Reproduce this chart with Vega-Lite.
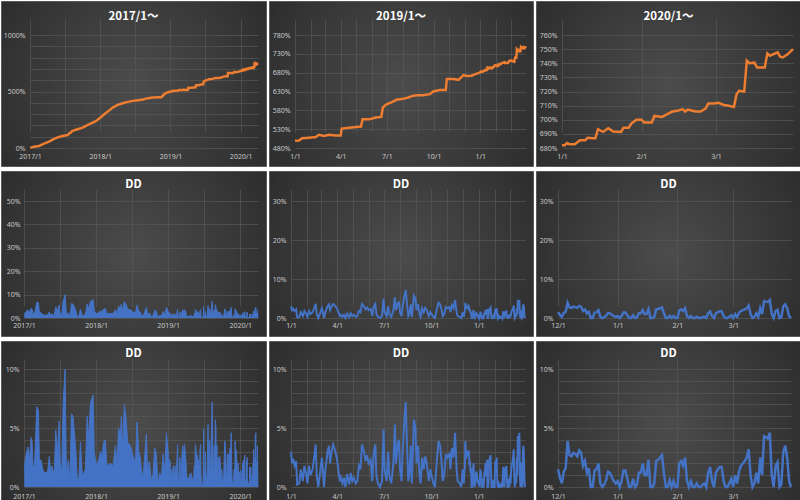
{
"$schema": "https://vega.github.io/schema/vega-lite/v6.json",
"padding": 0,
"background": "#ffffff",
"spacing": 3,
"datasets": {
"cum": [
{"d":"2017/01/02","v":1},{"d":"2017/01/22","v":12},{"d":"2017/02/17","v":18},{"d":"2017/03/15","v":38},{"d":"2017/04/10","v":56},{"d":"2017/05/06","v":80},{"d":"2017/06/01","v":98},{"d":"2017/06/19","v":106},{"d":"2017/07/15","v":115},{"d":"2017/08/10","v":151},{"d":"2017/09/05","v":166},{"d":"2017/10/02","v":180},{"d":"2017/10/28","v":204},{"d":"2017/11/23","v":225},{"d":"2017/12/11","v":240},
{"d":"2018/01/02","v":269},{"d":"2018/01/22","v":299},{"d":"2018/02/09","v":322},{"d":"2018/03/07","v":358},{"d":"2018/04/02","v":382},{"d":"2018/04/28","v":396},{"d":"2018/05/24","v":408},{"d":"2018/06/19","v":417},{"d":"2018/07/15","v":423},{"d":"2018/08/11","v":429},{"d":"2018/09/06","v":441},{"d":"2018/10/02","v":447},{"d":"2018/10/28","v":450},{"d":"2018/11/15","v":450},{"d":"2018/12/03","v":482},{"d":"2018/12/20","v":494},
{"d":"2019/01/01","v":499},{"d":"2019/01/09","v":500},{"d":"2019/01/15","v":506},{"d":"2019/01/29","v":507.5},{"d":"2019/02/11","v":509},{"d":"2019/02/17","v":515},{"d":"2019/02/27","v":512},{"d":"2019/03/09","v":515},{"d":"2019/03/22","v":513},{"d":"2019/04/01","v":513},{"d":"2019/04/03","v":531.5},{"d":"2019/04/18","v":534},{"d":"2019/05/01","v":536},{"d":"2019/05/11","v":537},{"d":"2019/05/14","v":556},{"d":"2019/05/27","v":556},{"d":"2019/06/09","v":561},{"d":"2019/06/20","v":562.6},{"d":"2019/06/23","v":587.5},{"d":"2019/06/30","v":596},{"d":"2019/07/10","v":601},{"d":"2019/07/20","v":608},{"d":"2019/08/02","v":610.5},{"d":"2019/08/12","v":614},{"d":"2019/08/22","v":619},{"d":"2019/09/01","v":620},{"d":"2019/09/10","v":620},{"d":"2019/09/24","v":623},{"d":"2019/09/30","v":630},{"d":"2019/10/13","v":634},{"d":"2019/10/25","v":634},{"d":"2019/10/27","v":663},{"d":"2019/11/09","v":663},{"d":"2019/11/19","v":661},{"d":"2019/11/29","v":673.6},{"d":"2019/12/05","v":671},{"d":"2019/12/15","v":672},{"d":"2019/12/22","v":676},{"d":"2019/12/31","v":680},
{"d":"2020/01/01","v":681.9},{"d":"2020/01/02","v":682},{"d":"2020/01/03","v":683.5},{"d":"2020/01/04","v":682.6},{"d":"2020/01/06","v":682.6},{"d":"2020/01/08","v":685.4},{"d":"2020/01/10","v":685.4},{"d":"2020/01/11","v":687.3},{"d":"2020/01/13","v":686.9},{"d":"2020/01/14","v":686.9},{"d":"2020/01/15","v":693.3},{"d":"2020/01/17","v":691.4},{"d":"2020/01/19","v":694},{"d":"2020/01/21","v":691.6},{"d":"2020/01/24","v":691.4},{"d":"2020/01/25","v":694.4},{"d":"2020/01/27","v":694.4},{"d":"2020/01/28","v":697.3},{"d":"2020/01/30","v":700},{"d":"2020/02/01","v":700},{"d":"2020/02/02","v":698},{"d":"2020/02/05","v":698},{"d":"2020/02/06","v":702.7},{"d":"2020/02/09","v":702},{"d":"2020/02/11","v":704},{"d":"2020/02/13","v":705.8},{"d":"2020/02/15","v":706.3},{"d":"2020/02/17","v":707.5},{"d":"2020/02/18","v":705.8},{"d":"2020/02/19","v":707.2},{"d":"2020/02/22","v":705.8},{"d":"2020/02/24","v":705.8},{"d":"2020/02/26","v":708},{"d":"2020/02/27","v":711.5},{"d":"2020/02/29","v":711.5},{"d":"2020/03/02","v":712},{"d":"2020/03/04","v":710.5},{"d":"2020/03/05","v":710.3},{"d":"2020/03/08","v":709},{"d":"2020/03/09","v":718},{"d":"2020/03/10","v":720.5},{"d":"2020/03/12","v":720},{"d":"2020/03/13","v":741.8},{"d":"2020/03/14","v":740},{"d":"2020/03/16","v":740.4},{"d":"2020/03/17","v":737},{"d":"2020/03/19","v":737},{"d":"2020/03/20","v":737},{"d":"2020/03/21","v":747},{"d":"2020/03/22","v":745.3},{"d":"2020/03/25","v":747.7},{"d":"2020/03/26","v":744.6},{"d":"2020/03/27","v":744.1},{"d":"2020/03/29","v":746.5},{"d":"2020/03/31","v":750}
],
"dd": [
{"d":"2017/01/02","v":1.6},{"d":"2017/01/12","v":2.8},{"d":"2017/01/21","v":3.4},{"d":"2017/01/29","v":2.3},{"d":"2017/02/06","v":4.2},{"d":"2017/02/11","v":3.8},{"d":"2017/02/16","v":1.7},{"d":"2017/02/23","v":1.8},{"d":"2017/03/07","v":6.8},{"d":"2017/03/15","v":6.5},{"d":"2017/03/20","v":2.2},{"d":"2017/03/28","v":2.3},{"d":"2017/04/06","v":1.5},{"d":"2017/04/14","v":1.2},{"d":"2017/05/01","v":1.3},{"d":"2017/05/09","v":2.6},{"d":"2017/05/17","v":1.0},{"d":"2017/05/22","v":1.8},{"d":"2017/06/03","v":1.0},{"d":"2017/06/11","v":4.8},{"d":"2017/06/20","v":3.0},{"d":"2017/06/28","v":5.6},{"d":"2017/07/03","v":2.0},{"d":"2017/07/11","v":1.0},{"d":"2017/07/18","v":7.0},{"d":"2017/07/28","v":10.0},{"d":"2017/08/04","v":1.0},{"d":"2017/08/14","v":2.3},{"d":"2017/08/22","v":0.5},{"d":"2017/08/29","v":6.2},{"d":"2017/09/06","v":6.0},{"d":"2017/09/14","v":4.5},{"d":"2017/09/21","v":3.0},{"d":"2017/09/28","v":0.6},{"d":"2017/10/06","v":0.8},{"d":"2017/10/14","v":3.8},{"d":"2017/10/23","v":1.0},{"d":"2017/10/31","v":1.2},{"d":"2017/11/08","v":1.5},{"d":"2017/11/17","v":6.0},{"d":"2017/11/25","v":4.0},{"d":"2017/12/03","v":7.1},{"d":"2017/12/17","v":7.8},{"d":"2017/12/23","v":3.0},
{"d":"2018/01/02","v":1.8},{"d":"2018/01/14","v":2.3},{"d":"2018/01/23","v":3.0},{"d":"2018/01/31","v":2.5},{"d":"2018/02/08","v":3.8},{"d":"2018/02/17","v":4.0},{"d":"2018/02/25","v":1.8},{"d":"2018/03/06","v":1.9},{"d":"2018/03/14","v":2.0},{"d":"2018/03/28","v":1.8},{"d":"2018/04/09","v":3.5},{"d":"2018/04/17","v":2.0},{"d":"2018/04/25","v":5.0},{"d":"2018/05/04","v":4.3},{"d":"2018/05/09","v":6.0},{"d":"2018/05/16","v":3.0},{"d":"2018/05/24","v":7.0},{"d":"2018/06/02","v":5.8},{"d":"2018/06/10","v":3.8},{"d":"2018/06/24","v":3.5},{"d":"2018/07/02","v":3.0},{"d":"2018/07/10","v":2.5},{"d":"2018/07/19","v":2.0},{"d":"2018/07/27","v":5.5},{"d":"2018/08/05","v":3.0},{"d":"2018/08/13","v":2.5},{"d":"2018/08/22","v":0.8},{"d":"2018/08/30","v":1.5},{"d":"2018/09/13","v":4.5},{"d":"2018/09/19","v":1.2},{"d":"2018/09/28","v":2.2},{"d":"2018/10/08","v":0.5},{"d":"2018/10/16","v":1.0},{"d":"2018/10/25","v":3.3},{"d":"2018/11/02","v":2.8},{"d":"2018/11/11","v":0.3},{"d":"2018/11/19","v":1.2},{"d":"2018/11/28","v":0.8},{"d":"2018/12/06","v":2.8},{"d":"2018/12/15","v":1.2},{"d":"2018/12/23","v":4.6},
{"d":"2019/01/01","v":3.0},{"d":"2019/01/03","v":2.0},{"d":"2019/01/05","v":2.4},{"d":"2019/01/08","v":1.8},{"d":"2019/01/11","v":2.2},{"d":"2019/01/13","v":0.2},{"d":"2019/01/17","v":0.3},{"d":"2019/01/20","v":1.5},{"d":"2019/01/24","v":0.5},{"d":"2019/01/27","v":1.8},{"d":"2019/01/30","v":1.2},{"d":"2019/02/02","v":0.3},{"d":"2019/02/05","v":1.8},{"d":"2019/02/08","v":1.0},{"d":"2019/02/12","v":1.5},{"d":"2019/02/15","v":2.5},{"d":"2019/02/18","v":3.6},{"d":"2019/02/20","v":1.0},{"d":"2019/02/23","v":0},{"d":"2019/02/26","v":1.0},{"d":"2019/03/02","v":2.5},{"d":"2019/03/04","v":1.5},{"d":"2019/03/06","v":0},{"d":"2019/03/09","v":1.5},{"d":"2019/03/13","v":3.0},{"d":"2019/03/16","v":3.5},{"d":"2019/03/18","v":2.0},{"d":"2019/03/21","v":3.0},{"d":"2019/03/24","v":3.6},{"d":"2019/03/27","v":3.2},{"d":"2019/03/31","v":2.5},{"d":"2019/04/03","v":1.5},{"d":"2019/04/06","v":0.5},{"d":"2019/04/08","v":0.8},{"d":"2019/04/11","v":0.3},{"d":"2019/04/14","v":0.8},{"d":"2019/04/17","v":0},{"d":"2019/04/20","v":1.1},{"d":"2019/04/24","v":0.2},{"d":"2019/04/27","v":1.2},{"d":"2019/04/30","v":0.5},{"d":"2019/05/03","v":0.8},{"d":"2019/05/07","v":0.3},{"d":"2019/05/10","v":0.5},{"d":"2019/05/13","v":1.8},{"d":"2019/05/16","v":1.5},{"d":"2019/05/19","v":3.6},{"d":"2019/05/23","v":3.0},{"d":"2019/05/26","v":2.2},{"d":"2019/05/29","v":2.7},{"d":"2019/06/01","v":2.0},{"d":"2019/06/05","v":2.3},{"d":"2019/06/08","v":0.5},{"d":"2019/06/11","v":3.0},{"d":"2019/06/14","v":3.6},{"d":"2019/06/16","v":1.0},{"d":"2019/06/19","v":0.3},{"d":"2019/06/23","v":0},{"d":"2019/06/27","v":0.5},{"d":"2019/06/30","v":4.9},{"d":"2019/07/02","v":1.5},{"d":"2019/07/06","v":0.5},{"d":"2019/07/09","v":3.0},{"d":"2019/07/11","v":1.0},{"d":"2019/07/15","v":0.3},{"d":"2019/07/19","v":2.0},{"d":"2019/07/22","v":5.3},{"d":"2019/07/24","v":2.0},{"d":"2019/07/28","v":3.8},{"d":"2019/07/30","v":4.0},{"d":"2019/08/01","v":1.5},{"d":"2019/08/04","v":0.5},{"d":"2019/08/06","v":3.0},{"d":"2019/08/10","v":6.0},{"d":"2019/08/12","v":7.2},{"d":"2019/08/15","v":3.0},{"d":"2019/08/17","v":0.5},{"d":"2019/08/19","v":1.0},{"d":"2019/08/22","v":3.5},{"d":"2019/08/24","v":0.3},{"d":"2019/08/28","v":5.7},{"d":"2019/08/31","v":5.0},{"d":"2019/09/02","v":2.0},{"d":"2019/09/05","v":3.5},{"d":"2019/09/08","v":1.0},{"d":"2019/09/10","v":0.3},{"d":"2019/09/13","v":2.5},{"d":"2019/09/16","v":1.5},{"d":"2019/09/19","v":2.6},{"d":"2019/09/22","v":2.0},{"d":"2019/09/26","v":0.5},{"d":"2019/09/29","v":1.5},{"d":"2019/10/02","v":0.8},{"d":"2019/10/05","v":0.3},{"d":"2019/10/08","v":0},{"d":"2019/10/12","v":2.5},{"d":"2019/10/15","v":3.9},{"d":"2019/10/18","v":3.5},{"d":"2019/10/21","v":2.0},{"d":"2019/10/23","v":0.5},{"d":"2019/10/26","v":1.0},{"d":"2019/10/29","v":2.8},{"d":"2019/11/01","v":2.5},{"d":"2019/11/05","v":2.8},{"d":"2019/11/07","v":1.5},{"d":"2019/11/10","v":3.3},{"d":"2019/11/13","v":2.5},{"d":"2019/11/16","v":4.6},{"d":"2019/11/19","v":1.5},{"d":"2019/11/21","v":0.5},{"d":"2019/11/25","v":0.3},{"d":"2019/11/28","v":0},
{"d":"2019/12/01","v":1.5},{"d":"2019/12/02","v":0.8},{"d":"2019/12/03","v":0.3},{"d":"2019/12/04","v":1.3},{"d":"2019/12/05","v":1.6},{"d":"2019/12/06","v":3.9},{"d":"2019/12/07","v":2.7},{"d":"2019/12/08","v":2.6},{"d":"2019/12/09","v":2.9},{"d":"2019/12/10","v":2.8},{"d":"2019/12/11","v":2.6},{"d":"2019/12/12","v":3.1},{"d":"2019/12/13","v":2.9},{"d":"2019/12/14","v":1.8},{"d":"2019/12/15","v":2.2},{"d":"2019/12/16","v":1.2},{"d":"2019/12/17","v":1.6},{"d":"2019/12/18","v":0},{"d":"2019/12/19","v":0},{"d":"2019/12/20","v":1.4},{"d":"2019/12/21","v":1.5},{"d":"2019/12/22","v":2.0},{"d":"2019/12/23","v":0.3},{"d":"2019/12/24","v":0},{"d":"2019/12/25","v":0.2},{"d":"2019/12/26","v":0.6},{"d":"2019/12/27","v":1.3},{"d":"2019/12/28","v":1.2},{"d":"2019/12/29","v":0.8},{"d":"2019/12/30","v":0.5},{"d":"2019/12/31","v":0.3},
{"d":"2020/01/01","v":0.5},{"d":"2020/01/02","v":0},{"d":"2020/01/03","v":0.5},{"d":"2020/01/04","v":1.4},{"d":"2020/01/05","v":1.4},{"d":"2020/01/07","v":0},{"d":"2020/01/08","v":0},{"d":"2020/01/09","v":0.7},{"d":"2020/01/10","v":0},{"d":"2020/01/11","v":0.2},{"d":"2020/01/12","v":1.2},{"d":"2020/01/13","v":1.2},{"d":"2020/01/14","v":2.0},{"d":"2020/01/15","v":1.0},{"d":"2020/01/16","v":1.0},{"d":"2020/01/17","v":2.3},{"d":"2020/01/18","v":0},{"d":"2020/01/19","v":0},{"d":"2020/01/20","v":0.3},{"d":"2020/01/21","v":2.2},{"d":"2020/01/22","v":2.3},{"d":"2020/01/23","v":2.5},{"d":"2020/01/24","v":2.7},{"d":"2020/01/25","v":1.2},{"d":"2020/01/26","v":0},{"d":"2020/01/27","v":0},{"d":"2020/01/28","v":0.6},{"d":"2020/01/29","v":0},{"d":"2020/01/30","v":0.5},{"d":"2020/01/31","v":0},
{"d":"2020/02/01","v":0},{"d":"2020/02/02","v":2.0},{"d":"2020/02/03","v":2.2},{"d":"2020/02/04","v":1.8},{"d":"2020/02/05","v":2.5},{"d":"2020/02/06","v":0.5},{"d":"2020/02/07","v":0},{"d":"2020/02/08","v":0.5},{"d":"2020/02/09","v":0},{"d":"2020/02/10","v":0},{"d":"2020/02/11","v":0.3},{"d":"2020/02/12","v":0},{"d":"2020/02/13","v":0},{"d":"2020/02/14","v":0.2},{"d":"2020/02/15","v":0.3},{"d":"2020/02/16","v":0},{"d":"2020/02/17","v":1.2},{"d":"2020/02/18","v":1.7},{"d":"2020/02/19","v":0.5},{"d":"2020/02/20","v":0},{"d":"2020/02/21","v":1.2},{"d":"2020/02/22","v":1.5},{"d":"2020/02/23","v":1.7},{"d":"2020/02/24","v":1.7},{"d":"2020/02/25","v":0.5},{"d":"2020/02/26","v":0},{"d":"2020/02/27","v":0},{"d":"2020/02/28","v":0.3},{"d":"2020/02/29","v":0.7},
{"d":"2020/03/01","v":0},{"d":"2020/03/02","v":1.0},{"d":"2020/03/03","v":0.3},{"d":"2020/03/04","v":1.3},{"d":"2020/03/05","v":1.8},{"d":"2020/03/07","v":2.2},{"d":"2020/03/08","v":2.5},{"d":"2020/03/09","v":3.2},{"d":"2020/03/10","v":1.0},{"d":"2020/03/11","v":0},{"d":"2020/03/12","v":0.3},{"d":"2020/03/13","v":1.2},{"d":"2020/03/14","v":0.3},{"d":"2020/03/15","v":2.5},{"d":"2020/03/16","v":1.0},{"d":"2020/03/17","v":4.3},{"d":"2020/03/18","v":4.2},{"d":"2020/03/19","v":4.1},{"d":"2020/03/20","v":4.6},{"d":"2020/03/21","v":1.0},{"d":"2020/03/22","v":0},{"d":"2020/03/23","v":1.8},{"d":"2020/03/24","v":2.1},{"d":"2020/03/25","v":0},{"d":"2020/03/26","v":0.2},{"d":"2020/03/27","v":3.0},{"d":"2020/03/28","v":3.5},{"d":"2020/03/29","v":2.5},{"d":"2020/03/30","v":0.5},{"d":"2020/03/31","v":0}
]
},
"vconcat": [
{"bounds": "flush", "spacing": 3, "hconcat": [
{"width": 265, "height": 165, "title": {"text": "2017/1～", "offset": -21}, "data": {"name": "cum"},
 "mark": {"type": "line", "color": "#ED7D31", "strokeWidth": 2.5},
 "encoding": {
  "x": {"field": "d", "type": "temporal", "title": null,
   "scale": {"domain": [{"year":2017,"month":1,"date":1},{"year":2020,"month":3,"date":31}], "range": [29, 257], "nice": false},
   "axis": {"offset": -18, "labelPadding": 4, "values": [{"year":2017,"month":1,"date":1},{"year":2017,"month":7,"date":1},{"year":2018,"month":1,"date":1},{"year":2018,"month":7,"date":1},{"year":2019,"month":1,"date":1},{"year":2019,"month":7,"date":1},{"year":2020,"month":1,"date":1}], "labelExpr": "month(datum.value)==0 ? timeFormat(datum.value, '%Y/%-m') : ''"}},
  "y": {"field": "v", "type": "quantitative", "title": null,
   "scale": {"domain": [0, 1000], "range": [147, 34], "nice": false, "zero": false},
   "axis": {"offset": -29, "values": [0,100,200,300,400,500,600,700,800,900,1000], "labelExpr": "datum.value % 500 == 0 ? datum.value + '%' : ''"}}
 }},
{"width": 264, "height": 165, "title": {"text": "2019/1～", "offset": -21}, "data": {"name": "cum"},
 "transform": [{"filter": {"field": "d", "gte": {"year":2019,"month":1,"date":1}}}],
 "mark": {"type": "line", "color": "#ED7D31", "strokeWidth": 2.5},
 "encoding": {
  "x": {"field": "d", "type": "temporal", "title": null,
   "scale": {"domain": [{"year":2019,"month":1,"date":1},{"year":2020,"month":3,"date":31}], "range": [26, 257], "nice": false},
   "axis": {"offset": -18, "labelPadding": 4, "values": [{"year":2019,"month":1,"date":1},{"year":2019,"month":2,"date":1},{"year":2019,"month":3,"date":1},{"year":2019,"month":4,"date":1},{"year":2019,"month":5,"date":1},{"year":2019,"month":6,"date":1},{"year":2019,"month":7,"date":1},{"year":2019,"month":8,"date":1},{"year":2019,"month":9,"date":1},{"year":2019,"month":10,"date":1},{"year":2019,"month":11,"date":1},{"year":2019,"month":12,"date":1},{"year":2020,"month":1,"date":1},{"year":2020,"month":2,"date":1},{"year":2020,"month":3,"date":1}], "labelExpr": "month(datum.value)%3==0 ? timeFormat(datum.value, '%-m/%-d') : ''"}},
  "y": {"field": "v", "type": "quantitative", "title": null,
   "scale": {"domain": [480, 780], "range": [147, 34], "nice": false, "zero": false},
   "axis": {"offset": -26, "values": [480,530,580,630,680,730,780], "labelExpr": "datum.value + '%'"}}
 }},
{"width": 265, "height": 165, "title": {"text": "2020/1～", "offset": -21}, "data": {"name": "cum"},
 "transform": [{"filter": {"field": "d", "gte": {"year":2020,"month":1,"date":1}}}],
 "mark": {"type": "line", "color": "#ED7D31", "strokeWidth": 2.5},
 "encoding": {
  "x": {"field": "d", "type": "temporal", "title": null,
   "scale": {"domain": [{"year":2020,"month":1,"date":1},{"year":2020,"month":3,"date":31}], "range": [26, 257], "nice": false},
   "axis": {"offset": -18, "labelPadding": 4, "values": [{"year":2020,"month":1,"date":1},{"year":2020,"month":2,"date":1},{"year":2020,"month":3,"date":1}], "labelExpr": "timeFormat(datum.value, '%-m/%-d')"}},
  "y": {"field": "v", "type": "quantitative", "title": null,
   "scale": {"domain": [680, 760], "range": [147, 34], "nice": false, "zero": false},
   "axis": {"offset": -26, "values": [680,690,700,710,720,730,740,750,760], "labelExpr": "datum.value + '%'"}}
 }}
]},
{"bounds": "flush", "spacing": 3, "hconcat": [
{"width": 265, "height": 165, "title": {"text": "DD", "offset": -19}, "data": {"name": "dd"},
 "encoding": {
  "x": {"field": "d", "type": "temporal", "title": null,
   "scale": {"domain": [{"year":2017,"month":1,"date":1},{"year":2020,"month":3,"date":31}], "range": [23, 257], "nice": false},
   "axis": {"offset": -18, "labelPadding": 3.5, "values": [{"year":2017,"month":1,"date":1},{"year":2017,"month":7,"date":1},{"year":2018,"month":1,"date":1},{"year":2018,"month":7,"date":1},{"year":2019,"month":1,"date":1},{"year":2019,"month":7,"date":1},{"year":2020,"month":1,"date":1}], "labelExpr": "month(datum.value)==0 ? timeFormat(datum.value, '%Y/%-m') : ''"}},
  "y": {"field": "v", "type": "quantitative", "title": null,
   "scale": {"domain": [0, 50], "range": [147, 30], "nice": false, "zero": false},
   "axis": {"offset": -23, "labelPadding": 4, "values": [0,10,20,30,40,50], "labelExpr": "datum.value + '%'"}}
 },
 "layer": [{"mark": {"type": "area", "color": "#4472C4"}}, {"mark": {"type": "line", "color": "#4472C4", "strokeWidth": 1}}]},
{"width": 264, "height": 165, "title": {"text": "DD", "offset": -19}, "data": {"name": "dd"},
 "transform": [{"filter": {"field": "d", "gte": {"year":2019,"month":1,"date":1}}}],
 "mark": {"type": "line", "color": "#4472C4", "strokeWidth": 2},
 "encoding": {
  "x": {"field": "d", "type": "temporal", "title": null,
   "scale": {"domain": [{"year":2019,"month":1,"date":1},{"year":2020,"month":3,"date":31}], "range": [22, 256], "nice": false},
   "axis": {"offset": -18, "labelPadding": 3, "values": [{"year":2019,"month":1,"date":1},{"year":2019,"month":2,"date":1},{"year":2019,"month":3,"date":1},{"year":2019,"month":4,"date":1},{"year":2019,"month":5,"date":1},{"year":2019,"month":6,"date":1},{"year":2019,"month":7,"date":1},{"year":2019,"month":8,"date":1},{"year":2019,"month":9,"date":1},{"year":2019,"month":10,"date":1},{"year":2019,"month":11,"date":1},{"year":2019,"month":12,"date":1},{"year":2020,"month":1,"date":1},{"year":2020,"month":2,"date":1},{"year":2020,"month":3,"date":1}], "labelExpr": "month(datum.value)%3==0 ? timeFormat(datum.value, '%-m/%-d') : ''"}},
  "y": {"field": "v", "type": "quantitative", "title": null,
   "scale": {"domain": [0, 30], "range": [147, 30], "nice": false, "zero": false},
   "axis": {"offset": -22, "values": [0,10,20,30], "labelExpr": "datum.value + '%'"}}
 }},
{"width": 265, "height": 165, "title": {"text": "DD", "offset": -19}, "data": {"name": "dd"},
 "transform": [{"filter": {"field": "d", "gte": {"year":2019,"month":12,"date":1}}}],
 "mark": {"type": "line", "color": "#4472C4", "strokeWidth": 2.5},
 "encoding": {
  "x": {"field": "d", "type": "temporal", "title": null,
   "scale": {"domain": [{"year":2019,"month":12,"date":1},{"year":2020,"month":3,"date":31}], "range": [22, 255], "nice": false},
   "axis": {"offset": -18, "labelPadding": 3, "values": [{"year":2019,"month":12,"date":1},{"year":2020,"month":1,"date":1},{"year":2020,"month":2,"date":1},{"year":2020,"month":3,"date":1}], "labelExpr": "timeFormat(datum.value, '%-m/%-d')"}},
  "y": {"field": "v", "type": "quantitative", "title": null,
   "scale": {"domain": [0, 30], "range": [147, 30], "nice": false, "zero": false},
   "axis": {"offset": -22, "values": [0,10,20,30], "labelExpr": "datum.value + '%'"}}
 }}
]},
{"bounds": "flush", "spacing": 3, "hconcat": [
{"width": 265, "height": 164, "title": {"text": "DD", "offset": -18}, "data": {"name": "dd"},
 "encoding": {
  "x": {"field": "d", "type": "temporal", "title": null,
   "scale": {"domain": [{"year":2017,"month":1,"date":1},{"year":2020,"month":3,"date":31}], "range": [23, 257], "nice": false},
   "axis": {"offset": -18, "labelPadding": 5, "values": [{"year":2017,"month":1,"date":1},{"year":2017,"month":7,"date":1},{"year":2018,"month":1,"date":1},{"year":2018,"month":7,"date":1},{"year":2019,"month":1,"date":1},{"year":2019,"month":7,"date":1},{"year":2020,"month":1,"date":1}], "labelExpr": "month(datum.value)==0 ? timeFormat(datum.value, '%Y/%-m') : ''"}},
  "y": {"field": "v", "type": "quantitative", "title": null,
   "scale": {"domain": [0, 10], "range": [146, 28], "nice": false, "zero": false},
   "axis": {"offset": -23, "values": [0,1,2,3,4,5,6,7,8,9,10], "labelExpr": "datum.value % 5 == 0 ? datum.value + '%' : ''"}}
 },
 "layer": [{"mark": {"type": "area", "color": "#4472C4"}}, {"mark": {"type": "line", "color": "#4472C4", "strokeWidth": 1}}]},
{"width": 264, "height": 164, "title": {"text": "DD", "offset": -18}, "data": {"name": "dd"},
 "transform": [{"filter": {"field": "d", "gte": {"year":2019,"month":1,"date":1}}}],
 "mark": {"type": "line", "color": "#4472C4", "strokeWidth": 2},
 "encoding": {
  "x": {"field": "d", "type": "temporal", "title": null,
   "scale": {"domain": [{"year":2019,"month":1,"date":1},{"year":2020,"month":3,"date":31}], "range": [22, 256], "nice": false},
   "axis": {"offset": -18, "labelPadding": 5, "values": [{"year":2019,"month":1,"date":1},{"year":2019,"month":2,"date":1},{"year":2019,"month":3,"date":1},{"year":2019,"month":4,"date":1},{"year":2019,"month":5,"date":1},{"year":2019,"month":6,"date":1},{"year":2019,"month":7,"date":1},{"year":2019,"month":8,"date":1},{"year":2019,"month":9,"date":1},{"year":2019,"month":10,"date":1},{"year":2019,"month":11,"date":1},{"year":2019,"month":12,"date":1},{"year":2020,"month":1,"date":1},{"year":2020,"month":2,"date":1},{"year":2020,"month":3,"date":1}], "labelExpr": "month(datum.value)%3==0 ? timeFormat(datum.value, '%-m/%-d') : ''"}},
  "y": {"field": "v", "type": "quantitative", "title": null,
   "scale": {"domain": [0, 10], "range": [146, 28], "nice": false, "zero": false},
   "axis": {"offset": -22, "values": [0,1,2,3,4,5,6,7,8,9,10], "labelExpr": "datum.value % 5 == 0 ? datum.value + '%' : ''"}}
 }},
{"width": 265, "height": 164, "title": {"text": "DD", "offset": -18}, "data": {"name": "dd"},
 "transform": [{"filter": {"field": "d", "gte": {"year":2019,"month":12,"date":1}}}],
 "mark": {"type": "line", "color": "#4472C4", "strokeWidth": 2.5},
 "encoding": {
  "x": {"field": "d", "type": "temporal", "title": null,
   "scale": {"domain": [{"year":2019,"month":12,"date":1},{"year":2020,"month":3,"date":31}], "range": [22, 255], "nice": false},
   "axis": {"offset": -18, "labelPadding": 5, "values": [{"year":2019,"month":12,"date":1},{"year":2020,"month":1,"date":1},{"year":2020,"month":2,"date":1},{"year":2020,"month":3,"date":1}], "labelExpr": "timeFormat(datum.value, '%-m/%-d')"}},
  "y": {"field": "v", "type": "quantitative", "title": null,
   "scale": {"domain": [0, 10], "range": [146, 28], "nice": false, "zero": false},
   "axis": {"offset": -22, "values": [0,1,2,3,4,5,6,7,8,9,10], "labelExpr": "datum.value % 5 == 0 ? datum.value + '%' : ''"}}
 }}
]}
],
"config": {
 "view": {"fill": {"gradient": "radial", "x1": 0.5, "y1": 0.5, "r1": 0, "x2": 0.5, "y2": 0.5, "r2": 0.72, "stops": [{"offset": 0, "color": "#4c4c4c"}, {"offset": 1, "color": "#262626"}]}, "stroke": "#5a5a5a", "strokeWidth": 1},
 "axis": {"domain": false, "ticks": false, "grid": true, "gridColor": "#575757", "gridWidth": 0.7, "labelColor": "#c8c8c8", "labelFont": "Noto Sans", "labelFontSize": 7, "labelOverlap": false, "labelFlush": false, "labelPadding": 5},
 "title": {"color": "#ffffff", "font": "Noto Sans CJK JP", "fontSize": 11.5, "fontWeight": "bold", "anchor": "middle", "frame": "group"},
 "concat": {"spacing": 3}
}
}
